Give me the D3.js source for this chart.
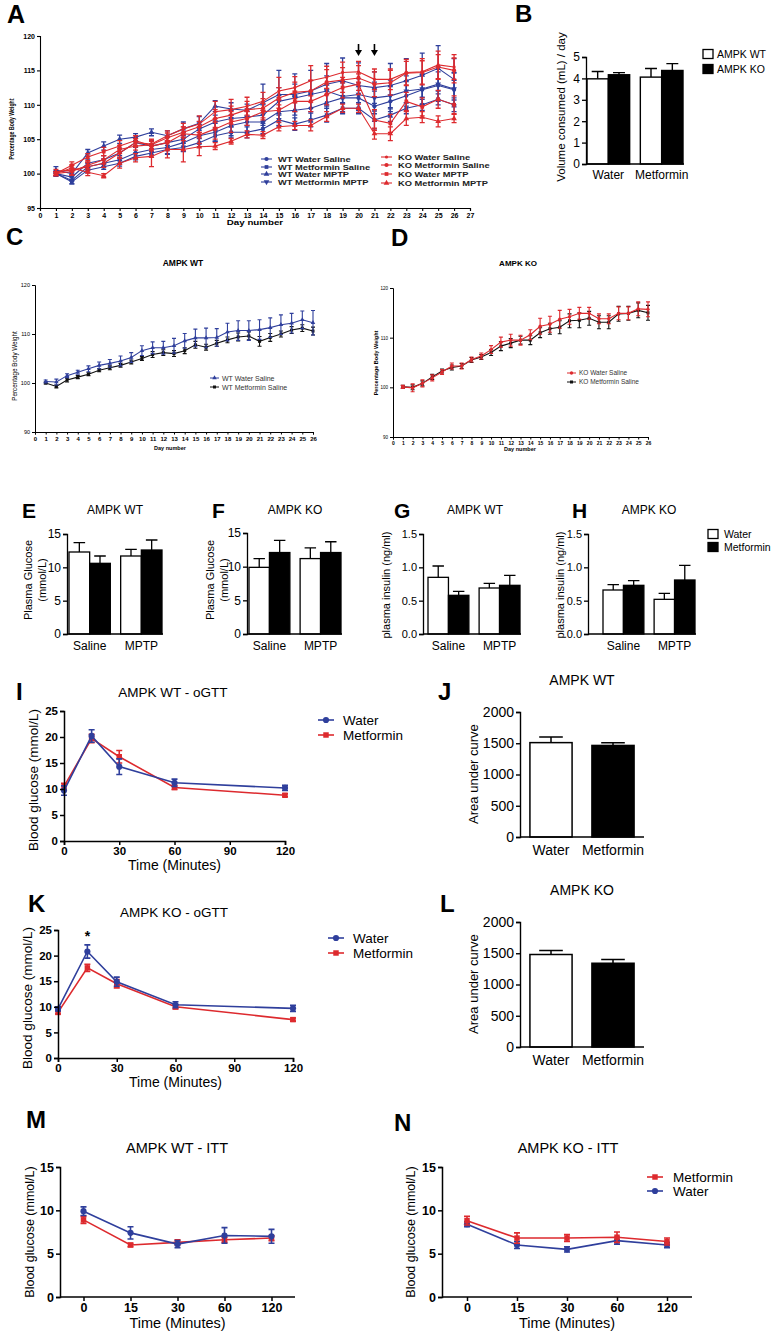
<!DOCTYPE html>
<html><head><meta charset="utf-8">
<script src="https://cdn.jsdelivr.net/npm/d3@7"></script>
<style>body{margin:0;background:#fff}</style>
</head><body>
<script>
// ================= DATA =================
const days = d3.range(1, 27);
const dayTicksA = d3.range(0, 28);
const dayTicksCD = d3.range(0, 27);
const pbwTicksA = [95, 100, 105, 110, 115, 120];
const pbwTicksCD = [90, 100, 110, 120];

// Panel A (percentage body weight, days 1-26)
const aWtWaterSaline     = [100,99,101,101.5,102,103,103.5,103.8,104.5,105.5,106,107,107.5,107.5,109,109.2,109.5,110.3,111,111,109.8,110.5,111.3,112.2,112.8,112.2];
const aWtWaterSalineErr  = [0.3,0.5,0.5,0.5,0.6,0.8,0.8,1.0,1.2,1.2,1.3,1.5,1.6,1.7,2.0,2.0,2.0,2.0,2.2,2.2,2.2,2.3,2.2,2.2,2.0,2.5];
const aWtMetforminSaline = [100,98.8,100.5,101,101.5,102.5,103,103.5,103.8,104.5,105.5,106,106,106.5,107.8,107.2,107.8,108.5,109.5,109.5,107.8,108.5,109.5,110,110.8,110];
const aWtMetforminSalineErr = [0.3,0.3,0.4,0.4,0.4,0.5,0.6,0.6,0.6,0.6,0.8,0.8,0.8,0.8,0.9,0.9,1.0,1.0,0.8,0.8,1.3,0.9,0.8,0.8,0.8,1.0];
const aWtWaterMptp       = [100.5,100,103,104,105,105.3,106,105.5,106.5,107.3,109.8,109.4,109.2,110.3,111.5,111.5,112,113,113.5,112.8,112.5,112.8,113.5,114.3,115.3,113.7];
const aWtWaterMptpErr    = [0.5,0.8,0.5,0.6,0.6,0.5,0.5,0.7,1.0,1.0,0.8,0.9,0.9,2.7,3.5,3.0,3.0,3.0,3.3,3.3,2.3,3.2,3.2,3.2,3.3,3.0];
const aWtMetforminMptp   = [100,99.5,101.5,102,103,104.5,104,104.5,105,106.5,107.5,108,108.2,108.5,110.5,111,111.5,112,111.2,111.5,111,111.3,112,112.3,113,112.3];
const aWtMetforminMptpErr= [0.4,0.6,0.6,0.6,0.7,0.7,0.8,0.8,1.0,1.0,1.0,1.2,1.2,1.5,2.0,2.0,2.0,2.2,2.2,2.3,2.3,2.3,2.2,2.2,2.5,2.3];
const aKoWaterSaline     = [100.3,100.5,101,101.5,103,104.5,104.3,105.5,106.5,107.2,109,109.3,109.8,110.5,112,112.5,113.5,114,114.7,114.8,113.7,113.7,114.7,114.8,115.8,115.5];
const aKoWaterSalineErr  = [0.3,0.7,0.6,0.6,0.6,0.6,0.7,0.7,0.8,1.2,1.5,1.5,1.3,1.3,2.0,1.6,2.2,1.6,1.5,1.5,1.5,1.5,1.9,1.9,2.0,1.8];
const aKoMetforminSaline = [100,100.3,101.2,102,103.5,104,104.2,105.2,106,106.8,108,108.5,109.3,109.5,111,111.8,112,113.3,113.6,113.9,113,113.2,114.6,114.7,115.5,115];
const aKoMetforminSalineErr = [0.3,0.5,0.5,0.6,0.6,0.6,0.7,0.7,0.8,0.8,1.3,1.3,1.2,1.4,1.5,1.5,1.6,1.8,1.8,1.8,1.8,1.8,1.7,1.7,1.8,1.8];
const aKoWaterMptp       = [100,101.2,102.4,103.2,104,104.8,104,104.5,105.8,105.6,106.5,107.5,108,109,109.2,110.5,110.5,111.5,112.5,113,107.8,107.3,110.5,109.7,110.8,110];
const aKoWaterMptpErr    = [0.3,0.5,0.5,0.6,0.8,0.7,0.7,0.9,1.0,1.2,1.5,1.5,1.0,1.2,1.5,1.5,1.5,1.5,1.5,1.5,1.5,1.3,1.3,1.3,1.3,1.3];
const aKoMetforminMptp   = [100,100.8,100.2,99.7,101.5,102.3,102.5,103.5,103.5,103.9,104,104.7,105.7,105.6,106.8,107,107,108.3,109.5,109.5,105.8,105.8,108,108.2,107.6,108];
const aKoMetforminMptpErr= [0.3,0.5,0.5,0.3,0.7,0.6,1.5,1.2,1.8,1.3,0.5,0.4,0.5,0.5,0.6,0.6,0.8,0.7,0.6,0.6,0.8,1.0,1.0,0.8,0.8,0.6];
const arrowDays = [20, 21];

// Panel B (volume consumed)
const bGroups = ["Water", "Metformin"];
const bGenotypes = ["AMPK WT", "AMPK KO"];
const bWT = [3.98, 4.06], bWTErr = [0.34, 0.40];
const bKO = [4.17, 4.37], bKOErr = [0.10, 0.32];
const bTicks = [0, 1, 2, 3, 4, 5];

// Panel C (AMPK WT)
const cWater = [100.3,100.2,101.5,102.2,102.9,103.6,104,104.5,105.2,106.6,107.2,107.2,107.6,108.6,109.2,109.2,109.3,110.4,110.7,110.7,110.9,111.3,111.9,112.2,112.9,112.3];
const cWaterErr = [0.3,0.6,0.4,0.4,0.6,0.7,0.8,1.0,1.0,1.0,1.2,1.3,1.5,1.5,1.8,2.0,1.8,1.8,2.0,2.0,2.0,2.0,2.0,2.0,1.8,2.5];
const cMet = [100,99.3,100.6,101.2,101.8,102.6,103.1,103.6,104.3,105,105.8,106.2,106,106.6,107.8,107.3,108.1,108.8,109.4,109.6,108.5,109.3,110,110.8,111.2,110.6];
const cMetErr = [0.2,0.3,0.4,0.3,0.3,0.3,0.4,0.4,0.4,0.4,0.6,0.6,0.6,0.6,0.7,0.6,0.6,0.6,0.8,0.8,1.0,0.8,0.6,0.7,0.7,0.8];

// Panel D (AMPK KO)
const dWater = [100.1,99.9,100.8,101.9,103.1,104.3,104.3,105.6,106.3,107.6,109.1,109.5,109.5,110.6,112.3,112.7,113.7,114.2,114.9,114.9,113.8,113.8,114.9,114.9,115.8,115.7];
const dWaterErr = [0.3,0.8,0.7,0.6,0.5,0.6,0.6,0.5,0.6,0.8,1.0,1.2,1.0,1.0,1.6,1.6,1.8,1.5,1.2,1.2,1.0,1.0,1.3,1.3,1.4,1.5];
const dMet = [100.1,100,100.8,102.1,103.3,104,104.3,105.5,106.1,107,108.3,108.9,109.5,109.5,111,111.8,112.1,113.4,113.5,113.9,113.1,113.1,114.8,114.9,115.5,115];
const dMetErr = [0.3,0.5,0.5,0.5,0.4,0.5,0.5,0.5,0.5,0.6,0.9,0.9,0.8,0.9,1.0,1.1,1.3,1.4,1.5,1.4,1.3,1.3,1.5,1.4,1.5,1.5];

// Panels E-H (plasma glucose / insulin)
const efghGroups = ["Saline", "MPTP"];
const treatments = ["Water", "Metformin"];
const glucoseTicks = [0, 5, 10, 15];
const insulinTicks = [0, 0.5, 1.0, 1.5];
const eWater = [12.3, 11.7], eWaterErr = [1.4, 1.0];
const eMet   = [10.6, 12.6], eMetErr   = [1.1, 1.5];
const fWater = [9.9, 11.2],  fWaterErr = [1.3, 1.6];
const fMet   = [12.1, 12.1], fMetErr   = [1.8, 1.6];
const gWater = [0.85, 0.69], gWaterErr = [0.17, 0.07];
const gMet   = [0.58, 0.73], gMetErr   = [0.06, 0.15];
const hWater = [0.66, 0.52], hWaterErr = [0.08, 0.09];
const hMet   = [0.73, 0.81], hMetErr   = [0.07, 0.22];

// Panels I, K (oGTT)
const gttTimes = [0, 15, 30, 60, 120];
const gttXTicks = [0, 30, 60, 90, 120];
const gttYTicks = [0, 5, 10, 15, 20, 25];
const iWater = [9.7, 20.2, 14.3, 11.2, 10.2], iWaterErr = [0.9, 1.2, 1.5, 0.7, 0.5];
const iMet   = [10.5, 19.7, 16.2, 10.3, 8.8], iMetErr   = [0.6, 0.8, 1.2, 0.4, 0.3];
const kWater = [9.6, 20.8, 14.9, 10.4, 9.7],  kWaterErr = [0.4, 1.3, 0.9, 0.6, 0.6];
const kMet   = [8.9, 17.6, 14.5, 10.0, 7.5],  kMetErr   = [0.3, 0.7, 0.8, 0.4, 0.3];

// Panels J, L (AUC)
const aucTicks = [0, 500, 1000, 1500, 2000];
const jAUC = [1510, 1465], jAUCErr = [90, 45];
const lAUC = [1480, 1340], lAUCErr = [65, 60];

// Panels M, N (ITT)
const ittTimes = ["0", "15", "30", "60", "120"];
const ittYTicks = [0, 5, 10, 15];
const mWater = [9.9, 7.4, 6.1, 7.1, 7.0], mWaterErr = [0.5, 0.7, 0.4, 0.9, 0.8];
const mMet   = [8.9, 6.0, 6.3, 6.6, 6.8], mMetErr   = [0.4, 0.2, 0.3, 0.3, 0.3];
const nMet   = [8.8, 6.8, 6.8, 6.9, 6.4], nMetErr   = [0.5, 0.6, 0.4, 0.6, 0.4];
const nWater = [8.4, 6.0, 5.5, 6.5, 6.0], nWaterErr = [0.3, 0.4, 0.3, 0.4, 0.3];

// ================= DRAWING =================
const FONT = "'Liberation Sans', Arial, Helvetica, sans-serif";
const BLUE = "#2f3f9c", RED = "#dd2a2e", BLK = "#111";
const svg = d3.select("body").append("svg").attr("width", 773).attr("height", 1334)
  .style("font-family", FONT);
svg.append("rect").attr("width", 773).attr("height", 1334).attr("fill", "#fff");

function txt(x, y, s, o = {}) {
  const t = svg.append("text").attr("x", x).attr("y", y).text(s)
    .attr("font-size", o.size || 12).attr("fill", o.fill || "#000")
    .attr("text-anchor", o.anchor || "start");
  if (o.bold) t.attr("font-weight", "bold");
  if (o.rot) t.attr("transform", `rotate(-90,${x},${y})`);
  if (o.sx) {
    const L = t.node().getComputedTextLength();
    t.attr("textLength", L * o.sx).attr("lengthAdjust", "spacingAndGlyphs");
  }
  return t;
}
function letter(x, y, s, size = 24) { txt(x, y, s, { size, bold: true }); }

function styleAxis(g, o) {
  g.select(".domain").attr("stroke", "#000").attr("stroke-width", o.sw || 1.3);
  g.selectAll(".tick line").attr("stroke", "#000").attr("stroke-width", o.sw || 1.3);
  g.selectAll("text").attr("font-size", o.size || 12).attr("font-family", FONT)
    .attr("font-weight", o.bold ? "bold" : "normal").attr("fill", "#000");
}
function yAxis(x0, y, ticks, o = {}) {
  const ax = d3.axisLeft(y).tickValues(ticks).tickSizeOuter(0).tickSize(o.tick || 4)
    .tickPadding(o.pad || 2).tickFormat(o.fmt || (d => d));
  const g = svg.append("g").attr("transform", `translate(${x0},0)`).call(ax);
  styleAxis(g, o);
  return g;
}
function xAxis(y0, x, ticks, o = {}) {
  const ax = (o.point ? d3.axisBottom(x) : d3.axisBottom(x).tickValues(ticks))
    .tickSizeOuter(0).tickSize(o.tick || 4).tickPadding(o.pad || 2).tickFormat(o.fmt || (d => d));
  const g = svg.append("g").attr("transform", `translate(0,${y0})`).call(ax);
  styleAxis(g, o);
  if (o.range) g.select(".domain").attr("d", `M${o.range[0]},0H${o.range[1]}`);
  return g;
}

const SHAPES = { circle: d3.symbolCircle, square: d3.symbolSquare, tri: d3.symbolTriangle, tridown: d3.symbolTriangle, star: d3.symbolCircle };
function marker(g, x, y, shape, size, color) {
  return g.append("path").attr("d", d3.symbol().type(SHAPES[shape]).size(size)())
    .attr("fill", color).attr("transform", `translate(${x},${y})${shape === "tridown" ? " rotate(180)" : ""}`);
}

function series(xs, vals, errs, x, y, o) {
  const g = svg.append("g");
  const pts = xs.map((d, i) => [x(d), y(vals[i]), errs ? errs[i] : 0, vals[i]]);
  const cap = o.cap || 2.5;
  pts.forEach(p => {
    if (!p[2]) return;
    const yt = y(p[3] + p[2]), yb = y(p[3] - p[2]);
    g.append("path").attr("d", `M${p[0]},${yt}V${yb}M${p[0] - cap},${yt}H${p[0] + cap}M${p[0] - cap},${yb}H${p[0] + cap}`)
      .attr("stroke", o.color).attr("stroke-width", o.ew || 1.2).attr("fill", "none");
  });
  g.append("path").attr("d", d3.line()(pts.map(p => [p[0], p[1]])))
    .attr("stroke", o.color).attr("stroke-width", o.lw || 1.3).attr("fill", "none");
  pts.forEach(p => marker(g, p[0], p[1], o.shape, o.ms || 20, o.color));
}

function legendLine(x, y, label, color, shape, o = {}) {
  const L = o.len || 16;
  svg.append("line").attr("x1", x).attr("x2", x + L).attr("y1", y).attr("y2", y)
    .attr("stroke", color).attr("stroke-width", o.lw || 1.5);
  marker(svg, x + L / 2, y, shape, o.ms || 24, color);
  txt(x + L + (o.gap || 6), y + (o.size || 12) * 0.36, label, { size: o.size || 12, bold: o.bold, fill: o.tfill || "#000", sx: o.sx });
}

function bars(xBand, sub, yS, groupsVals, o = {}) {
  const g = svg.append("g");
  groupsVals.forEach((gv, k) => {
    xBand.domain().forEach((grp, i) => {
      const x0 = xBand(grp) + (sub ? sub(sub.domain()[k]) : 0);
      const w = sub ? sub.bandwidth() : xBand.bandwidth();
      const v = gv.vals[i], e = gv.errs[i];
      const yt = yS(v + e), yv = yS(v);
      const cx = x0 + w / 2, cap = w * 0.28;
      g.append("path").attr("d", `M${cx},${yv}V${yt}M${cx - cap},${yt}H${cx + cap}`)
        .attr("stroke", "#000").attr("stroke-width", o.ew || 1.4).attr("fill", "none");
      g.append("rect").attr("x", x0).attr("y", yv).attr("width", w).attr("height", yS(0) - yv)
        .attr("fill", gv.fills ? gv.fills[i] : gv.fill).attr("stroke", "#000").attr("stroke-width", o.sw || 1.4);
    });
  });
}

// ---------- Panel A ----------
{
  letter(7, 23, "A", 25);
  const x = d3.scaleLinear().domain([0, 27]).range([40, 470]);
  const y = d3.scaleLinear().domain([95, 120]).range([208, 36]);
  const defs = [
    [aWtWaterMptp, aWtWaterMptpErr, BLUE, "tri"],
    [aWtMetforminMptp, aWtMetforminMptpErr, BLUE, "tridown"],
    [aWtWaterSaline, aWtWaterSalineErr, BLUE, "circle"],
    [aWtMetforminSaline, aWtMetforminSalineErr, BLUE, "square"],
    [aKoWaterSaline, aKoWaterSalineErr, RED, "star"],
    [aKoMetforminSaline, aKoMetforminSalineErr, RED, "circle"],
    [aKoWaterMptp, aKoWaterMptpErr, RED, "square"],
    [aKoMetforminMptp, aKoMetforminMptpErr, RED, "tri"],
  ];
  defs.forEach(d => series(days, d[0], d[1], x, y, { color: d[2], shape: d[3], ms: d[3] === "star" ? 8 : 14, lw: 1.1, ew: 1.3, cap: 2.5 }));
  const gy = yAxis(40, y, pbwTicksA, { size: 7, bold: true, tick: 3, sw: 1.1 });
  const gx = xAxis(208, x, dayTicksA, { size: 7, bold: true, tick: 3, sw: 1.1, pad: 2 });
  txt(14, 129, "Percentage Body Weight", { size: 7, bold: true, anchor: "middle", rot: true, sx: 0.74 });
  txt(255, 225, "Day number", { size: 7.5, bold: true, anchor: "middle", sx: 1.3 });
  arrowDays.forEach(dd => {
    const ax = x(dd);
    svg.append("line").attr("x1", ax).attr("x2", ax).attr("y1", 44).attr("y2", 52).attr("stroke", "#000").attr("stroke-width", 1.6);
    svg.append("path").attr("d", `M${ax - 3.5},${50}L${ax + 3.5},${50}L${ax},${56}Z`).attr("fill", "#000");
  });
  const legA = [
    ["WT Water Saline", BLUE, "circle", 261, 159], ["WT Metformin Saline", BLUE, "square", 261, 167],
    ["WT Water MPTP", BLUE, "tri", 261, 174], ["WT Metformin MPTP", BLUE, "tridown", 261, 182],
    ["KO Water Saline", RED, "star", 381, 157], ["KO Metformin Saline", RED, "circle", 381, 165],
    ["KO Water MPTP", RED, "square", 381, 174], ["KO Metformin MPTP", RED, "tri", 381, 183],
  ];
  legA.forEach(l => legendLine(l[3], l[4], l[0], l[1], l[2], { len: 11, size: 7, bold: true, ms: l[2] === "star" ? 8 : 14, lw: 1.1, gap: 6, tfill: "#222", sx: 1.33 }));
}

// ---------- Panel B ----------
{
  letter(515, 22, "B", 24);
  const y = d3.scaleLinear().domain([0, 5]).range([164, 57]);
  const x = d3.scaleBand().domain(bGroups).range([587, 683]).paddingInner(0.2).paddingOuter(0);
  const sub = d3.scaleBand().domain(bGenotypes).range([0, x.bandwidth()]);
  bars(x, sub, y, [{ vals: bWT, errs: bWTErr, fill: "#fff" }, { vals: bKO, errs: bKOErr, fill: "#000" }]);
  yAxis(586, y, bTicks, { size: 12, tick: 4 });
  svg.append("line").attr("x1", 586).attr("x2", 684).attr("y1", 164).attr("y2", 164).attr("stroke", "#000").attr("stroke-width", 1.3);
  bGroups.forEach(gp => txt(x(gp) + x.bandwidth() / 2, 179, gp, { size: 12, anchor: "middle" }));
  txt(565, 107, "Volume consumed (mL) / day", { size: 11.5, anchor: "middle", rot: true });
  [["AMPK WT", "#fff", 54], ["AMPK KO", "#000", 69]].forEach(l => {
    svg.append("rect").attr("x", 703).attr("y", l[2] - 4.5).attr("width", 10).attr("height", 9).attr("fill", l[1]).attr("stroke", "#000").attr("stroke-width", 1.3);
    txt(717, l[2] + 4, l[0], { size: 10.5 });
  });
}

// ---------- Panel C ----------
{
  letter(6, 245, "C", 24);
  txt(183, 266, "AMPK WT", { size: 8.5, bold: true, anchor: "middle" });
  const x = d3.scaleLinear().domain([0, 26]).range([35, 313]);
  const y = d3.scaleLinear().domain([90, 120]).range([432, 285]);
  series(days, cMet, cMetErr, x, y, { color: BLK, shape: "square", ms: 9, lw: 1.1, ew: 1.1, cap: 2 });
  series(days, cWater, cWaterErr, x, y, { color: BLUE, shape: "tri", ms: 9, lw: 1.1, ew: 1.1, cap: 2 });
  yAxis(35, y, pbwTicksCD, { size: 5.5, tick: 3, sw: 1 });
  xAxis(432, x, dayTicksCD, { size: 6, bold: true, tick: 2.5, sw: 1 });
  txt(17, 366, "Percentage Body Weight", { size: 6.3, anchor: "middle", rot: true });
  txt(170, 450, "Day number", { size: 5.5, bold: true, anchor: "middle" });
  legendLine(210, 378, "WT Water Saline", BLUE, "tri", { len: 9, size: 7, ms: 9, lw: 1, gap: 3, tfill: "#333" });
  legendLine(210, 387, "WT Metformin Saline", BLK, "square", { len: 9, size: 7, ms: 9, lw: 1, gap: 3, tfill: "#333" });
}

// ---------- Panel D ----------
{
  letter(391, 246, "D", 24);
  txt(518, 266, "AMPK KO", { size: 8, bold: true, anchor: "middle" });
  const x = d3.scaleLinear().domain([0, 26]).range([393, 648]);
  const y = d3.scaleLinear().domain([90, 120]).range([437, 288]);
  series(days, dMet, dMetErr, x, y, { color: BLK, shape: "square", ms: 9, lw: 1.1, ew: 1.1, cap: 2 });
  series(days, dWater, dWaterErr, x, y, { color: RED, shape: "circle", ms: 9, lw: 1.1, ew: 1.1, cap: 2 });
  yAxis(393, y, pbwTicksCD, { size: 4.5, tick: 3, sw: 1 });
  xAxis(437, x, dayTicksCD, { size: 5, bold: true, tick: 2.5, sw: 1 });
  txt(378, 363, "Percentage Body Weight", { size: 5.5, bold: true, anchor: "middle", rot: true });
  txt(520, 451, "Day number", { size: 5.5, bold: true, anchor: "middle" });
  legendLine(567, 373, "KO Water Saline", RED, "circle", { len: 9, size: 6.5, ms: 9, lw: 1, gap: 3, tfill: "#333" });
  legendLine(567, 382, "KO Metformin Saline", BLK, "square", { len: 9, size: 6.5, ms: 9, lw: 1, gap: 3, tfill: "#333" });
}

// ---------- Panels E-H ----------
function smallBar(o) {
  letter(o.lx, 518, o.letter, 21);
  txt(o.tx, 514, o.title, { size: 12, anchor: "middle" });
  const y = d3.scaleLinear().domain([0, o.max]).range([634, o.top]);
  const x = d3.scaleBand().domain(efghGroups).range(o.xr).paddingInner(0.2).paddingOuter(0);
  const sub = d3.scaleBand().domain(treatments).range([0, x.bandwidth()]);
  bars(x, sub, y, [{ vals: o.w, errs: o.we, fill: "#fff" }, { vals: o.m, errs: o.me, fill: "#000" }], { sw: 1.3, ew: 1.3 });
  yAxis(o.ax, y, o.ticks, { size: o.ts || 12, tick: 4, fmt: o.fmt });
  svg.append("line").attr("x1", o.ax).attr("x2", o.xr[1] + 1).attr("y1", 634).attr("y2", 634).attr("stroke", "#000").attr("stroke-width", 1.3);
  efghGroups.forEach(gp => txt(x(gp) + x.bandwidth() / 2, 650, gp, { size: 12, anchor: "middle" }));
  o.ylab.forEach((l, i) => txt(o.ylx[i], o.ylc, l, { size: 11, anchor: "middle", rot: true }));
}
smallBar({ letter: "E", lx: 22, tx: 115, title: "AMPK WT", max: 15, top: 534, xr: [69, 162], ax: 67, ticks: glucoseTicks, w: eWater, we: eWaterErr, m: eMet, me: eMetErr, ylab: ["Plasma Glucose", "(mmol/L)"], ylx: [32, 46], ylc: 580 });
smallBar({ letter: "F", lx: 212, tx: 295, title: "AMPK KO", max: 15, top: 533, xr: [249, 341], ax: 247, ticks: glucoseTicks, w: fWater, we: fWaterErr, m: fMet, me: fMetErr, ylab: ["Plasma Glucose", "(mmol/L)"], ylx: [214, 228], ylc: 580 });
smallBar({ letter: "G", lx: 394, tx: 475, title: "AMPK WT", max: 1.5, top: 534, xr: [428, 520], ax: 423, ticks: insulinTicks, ts: 11, fmt: d3.format(".1f"), w: gWater, we: gWaterErr, m: gMet, me: gMetErr, ylab: ["plasma insulin (ng/ml)"], ylx: [390], ylc: 585 });
smallBar({ letter: "H", lx: 572, tx: 649, title: "AMPK KO", max: 1.5, top: 534, xr: [603, 695], ax: 588, ticks: insulinTicks, ts: 11, fmt: d3.format(".1f"), w: hWater, we: hWaterErr, m: hMet, me: hMetErr, ylab: ["plasma insulin (ng/ml)"], ylx: [564], ylc: 585 });
[["Water", "#fff", 534], ["Metformin", "#000", 547]].forEach(l => {
  svg.append("rect").attr("x", 708).attr("y", l[2] - 4.5).attr("width", 10).attr("height", 9).attr("fill", l[1]).attr("stroke", "#000").attr("stroke-width", 1.3);
  txt(724, l[2] + 4, l[0], { size: 10.5 });
});

// ---------- Panels I, K (oGTT) ----------
function gtt(o) {
  letter(o.lx, o.ly, o.letter, 24);
  txt(o.tx, o.ty, o.title, { size: 13.5, anchor: "middle" });
  const x = d3.scaleLinear().domain([0, 120]).range(o.xr);
  const y = d3.scaleLinear().domain([0, 25]).range([o.y0, o.y25]);
  series(gttTimes, o.met, o.metE, x, y, { color: RED, shape: "square", ms: 30, lw: 1.6, ew: 1.6, cap: 3 });
  series(gttTimes, o.water, o.waterE, x, y, { color: BLUE, shape: "circle", ms: 30, lw: 1.6, ew: 1.6, cap: 3 });
  yAxis(o.xr[0], y, gttYTicks, { size: 11.5, bold: true, tick: 4, sw: 1.5 });
  xAxis(o.y0, x, gttXTicks, { size: 11.5, bold: true, tick: 4, sw: 1.5 });
  txt(o.ylx, (o.y0 + o.y25) / 2 + 4, "Blood glucose (mmol/L)", { size: 13.5, anchor: "middle", rot: true });
  txt((o.xr[0] + o.xr[1]) / 2, o.y0 + 29, "Time (Minutes)", { size: 14, anchor: "middle" });
  legendLine(o.legx, o.legy, "Water", BLUE, "circle", { len: 16, size: 13.5, ms: 30, lw: 1.6, gap: 9 });
  legendLine(o.legx, o.legy + 15, "Metformin", RED, "square", { len: 16, size: 13.5, ms: 30, lw: 1.6, gap: 9 });
  return { x, y };
}
gtt({ letter: "I", lx: 16, ly: 700, title: "AMPK WT - oGTT", tx: 173, ty: 697, xr: [64, 285], y0: 841, y25: 711, water: iWater, waterE: iWaterErr, met: iMet, metE: iMetErr, ylx: 38, legx: 318, legy: 720 });
const kSc = gtt({ letter: "K", lx: 28, ly: 912, title: "AMPK KO - oGTT", tx: 174, ty: 917, xr: [58, 293], y0: 1058, y25: 930, water: kWater, waterE: kWaterErr, met: kMet, metE: kMetErr, ylx: 32, legx: 328, legy: 938 });
txt(kSc.x(15), kSc.y(kWater[1] + kWaterErr[1]) - 4, "*", { size: 14, anchor: "middle", bold: true });

// ---------- Panels J, L (AUC) ----------
function aucBars(o) {
  letter(o.lx, o.ly, o.letter, 24);
  txt(582, o.ty, o.title, { size: 14, anchor: "middle" });
  const y = d3.scaleLinear().domain([0, 2000]).range([o.y0, o.y0 - 125]);
  const x = d3.scaleBand().domain(treatments).range([520, 644]).paddingInner(0.32).paddingOuter(0.16);
  bars(x, null, y, [{ vals: o.v, errs: o.e, fills: ["#fff", "#000"] }], { sw: 1.5, ew: 1.5 });
  yAxis(520, y, aucTicks, { size: 14, tick: 4, sw: 1.4 });
  svg.append("line").attr("x1", 520).attr("x2", 644).attr("y1", o.y0).attr("y2", o.y0).attr("stroke", "#000").attr("stroke-width", 1.4);
  treatments.forEach(t => txt(x(t) + x.bandwidth() / 2, o.y0 + 18, t, { size: 14, anchor: "middle" }));
  txt(478, o.y0 - 63, "Area under curve", { size: 13, anchor: "middle", rot: true });
}
aucBars({ letter: "J", lx: 438, ly: 700, title: "AMPK WT", ty: 685, y0: 837, v: jAUC, e: jAUCErr });
aucBars({ letter: "L", lx: 440, ly: 912, title: "AMPK KO", ty: 895, y0: 1047, v: lAUC, e: lAUCErr });

// ---------- Panels M, N (ITT) ----------
function itt(o) {
  letter(o.lx, o.ly, o.letter, 24);
  txt(o.tx, 1153, o.title, { size: 14.5, anchor: "middle" });
  const x = d3.scalePoint().domain(ittTimes).range(o.xr).padding(0.5);
  const y = d3.scaleLinear().domain([0, 15]).range([1297, 1167]);
  o.order.forEach(s => series(ittTimes, s.v, s.e, x, y, { color: s.c, shape: s.sh, ms: 30, lw: 1.6, ew: 1.6, cap: 3 }));
  yAxis(o.xr[0], y, ittYTicks, { size: 12.5, bold: true, tick: 4, sw: 1.5 });
  xAxis(1297, x, null, { point: true, size: 12.5, bold: true, tick: 4, sw: 1.5, range: o.xr });
  txt(o.ylx, 1232, "Blood glucose (mmol/L)", { size: 12.5, anchor: "middle", rot: true });
  txt((o.xr[0] + o.xr[1]) / 2, 1328, "Time (Minutes)", { size: 14.5, anchor: "middle" });
}
itt({ letter: "M", lx: 26, ly: 1128, title: "AMPK WT - ITT", tx: 177, xr: [60, 295], ylx: 34,
  order: [{ v: mMet, e: mMetErr, c: RED, sh: "square" }, { v: mWater, e: mWaterErr, c: BLUE, sh: "circle" }] });
itt({ letter: "N", lx: 394, ly: 1131, title: "AMPK KO - ITT", tx: 568, xr: [442, 692], ylx: 415,
  order: [{ v: nWater, e: nWaterErr, c: BLUE, sh: "circle" }, { v: nMet, e: nMetErr, c: RED, sh: "square" }] });
legendLine(647, 1177, "Metformin", RED, "square", { len: 16, size: 13.5, ms: 30, lw: 1.6, gap: 10 });
legendLine(647, 1191, "Water", BLUE, "circle", { len: 16, size: 13.5, ms: 30, lw: 1.6, gap: 10 });
</script>
</body></html>
